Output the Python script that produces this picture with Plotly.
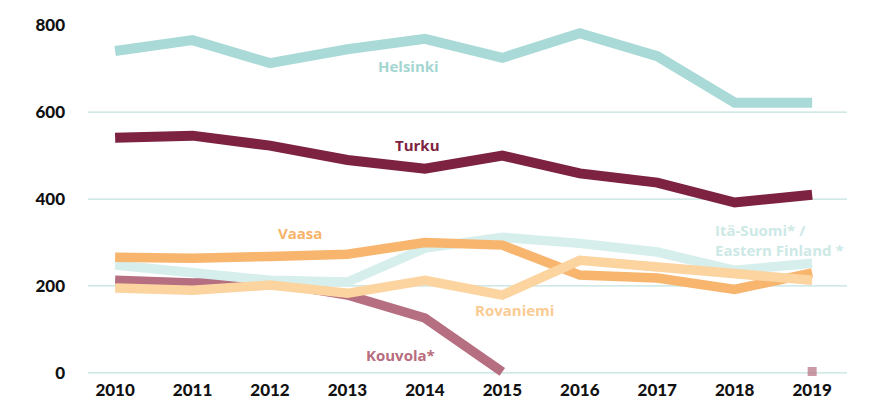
import plotly.graph_objects as go

years = [2010, 2011, 2012, 2013, 2014, 2015, 2016, 2017, 2018, 2019]
helsinki = [741, 766, 713, 745, 769, 725, 782, 729, 622, 622]
turku = [541, 546, 523, 490, 470, 500, 459, 438, 392, 410]
vaasa = [266, 264, 268, 273, 300, 294, 225, 218, 192, 230]
rovaniemi = [195, 190, 202, 183, 213, 179, 259, 245, 228, 213]
ita_suomi = [248, 229, 213, 209, 287, 312, 298, 278, 236, 252]
kouvola = [213, 207, 209, 179, 126, 2, None, None, None, 3]

y_ticks = [0, 200, 400, 600, 800]
grid_vals = [0, 200, 400, 600]

C_HEL = "#A9DAD7"
C_TUR = "#7D2240"
C_VAA = "#F7B56E"
C_ROV = "#FBD4A0"
C_ITA = "#D6EEEC"
C_KOU = "#B56F80"

fig = go.Figure()

def add(vals, color, width=9.5):
    fig.add_trace(go.Scatter(x=years, y=vals, mode="lines",
                             line=dict(color=color, width=width),
                             hoverinfo="skip", showlegend=False))

# Kouvola with isolated 2019 square
fig.add_trace(go.Scatter(x=years, y=kouvola, mode="lines+markers",
                         line=dict(color=C_KOU, width=9.5),
                         marker=dict(symbol="square", color=C_KOU,
                                     size=[0]*9 + [9], line=dict(width=0)),
                         connectgaps=False, hoverinfo="skip", showlegend=False))
add(ita_suomi, C_ITA)
add(vaasa, C_VAA)
add(rovaniemi, C_ROV)
add(turku, C_TUR, 10)
add(helsinki, C_HEL, 10)

shapes = [dict(type="line", xref="paper", x0=0, x1=1, yref="y", y0=g, y1=g,
               line=dict(color="#C2E2DF", width=1.2), layer="below")
          for g in grid_vals]

lab_font = dict(family="Open Sans", size=15, weight=700)
def ann(text, x, y, color, xanchor="center"):
    return dict(text=text, x=x, y=y, xref="x", yref="y", showarrow=False,
                xanchor=xanchor, yanchor="middle", align="left",
                font=dict(lab_font, color=color))

annotations = [
    ann("Helsinki", 2013.79, 706, "#A3D6D2"),
    ann("Turku", 2013.91, 524, C_TUR),
    ann("Vaasa", 2012.39, 322, "#F7B36A"),
    ann("Rovaniemi", 2015.16, 145, "#FACB92"),
    ann("Kouvola*", 2013.68, 41, "#B86C7D"),
    ann("Itä-Suomi* /<br>Eastern Finland *", 2017.72, 306, "#CDE9E6", "left"),
]

fig.update_layout(
    width=884, height=407,
    margin=dict(l=88, r=37, t=21, b=29),
    paper_bgcolor="white", plot_bgcolor="white",
    shapes=shapes, annotations=annotations,
    xaxis=dict(range=[2009.65, 2019.45], tickvals=years,
               ticktext=[str(y) for y in years], automargin=False,
               showgrid=False, zeroline=False, showline=False,
               ticks="", ticklabelstandoff=0,
               tickfont=dict(family="Lato", size=17, weight=900, color="#111")),
    yaxis=dict(range=[-12, 810], tickvals=y_ticks,
               ticktext=[str(v) for v in y_ticks], automargin=False,
               showgrid=False, zeroline=False, showline=False,
               ticks="", ticklabelstandoff=22,
               tickfont=dict(family="Lato", size=17, weight=900, color="#111")),
)

fig.write_html("out.html")
